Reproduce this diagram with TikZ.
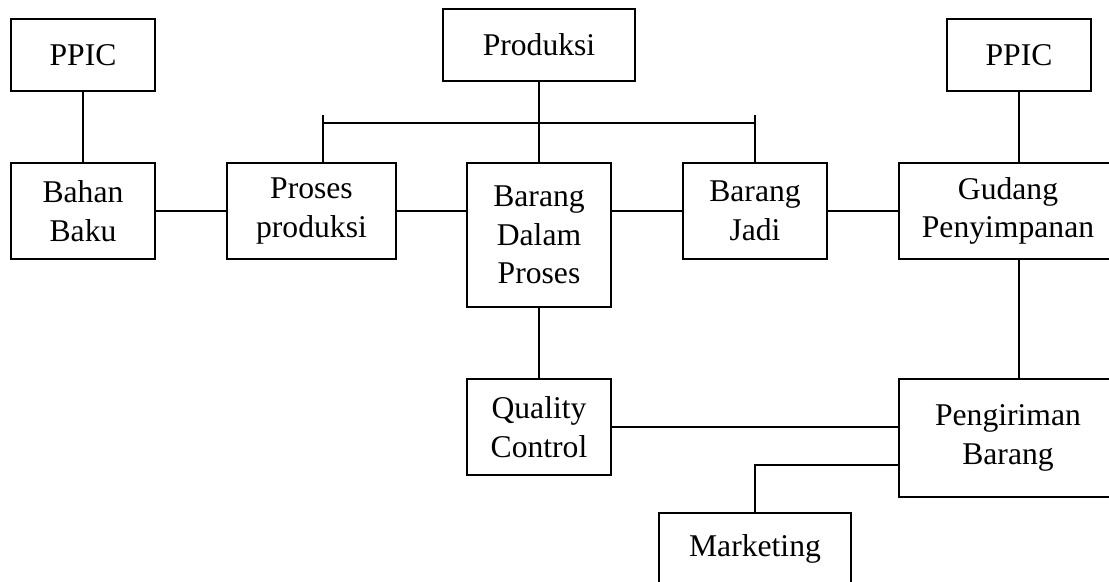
\documentclass[tikz,border=0pt]{standalone}
\usepackage{fontspec}
\setmainfont{Liberation Serif}
\begin{document}
\begin{tikzpicture}
  [x=0.025cm,y=-0.025cm,line width=1.1pt,
   box/.style={draw,rectangle,align=center,inner sep=0pt,
     font=\fontsize{22.5}{27.5}\selectfont}]
  \path[use as bounding box,clip] (0,0) rectangle (1109,581);
  \node (ppicL)[box,minimum width=3.6cm,minimum height=1.8cm] at (83,55) {PPIC};
  \node (bahan)[box,minimum width=3.6cm,minimum height=2.4cm] at (83,211) {Bahan\\Baku};
  \node (proses)[box,minimum width=4.225cm,minimum height=2.4cm] at (311.5,211) {Proses\\produksi};
  \node (produksi)[box,minimum width=4.8cm,minimum height=1.8cm] at (539,45) {Produksi};
  \node (bdp)[box,minimum width=3.6cm,minimum height=3.6cm] at (539,235) {Barang\\Dalam\\Proses};
  \node (jadi)[box,minimum width=3.6cm,minimum height=2.4cm] at (755,211) {Barang\\Jadi};
  \node (ppicR)[box,minimum width=3.6cm,minimum height=1.8cm] at (1019,55) {PPIC};
  \node (gudang)[box,minimum width=5.45cm,minimum height=2.4cm] at (1008,211) {Gudang\\Penyimpanan};
  \node (qc)[box,minimum width=3.6cm,minimum height=2.4cm] at (539,427) {Quality\\Control};
  \node (kirim)[box,minimum width=5.45cm,minimum height=2.95cm] at (1008,438) {Pengiriman\\Barang};
  \node (market)[box,minimum width=4.8cm,minimum height=1.8cm] at (755,549) {Marketing};

  \coordinate (busL) at (323,115);
  \coordinate (busR) at (755,115);
  \coordinate (hub) at (539,123);
  \coordinate (mk) at (755,465);

  \foreach \from/\to in {ppicL/bahan,bahan/proses,jadi/gudang,produksi/bdp,bdp/qc}
    \draw (\from) -- (\to);
  \draw (proses.east) -- (proses.east -| bdp.west);
  \draw (jadi.west -| bdp.east) -- (jadi.west);
  \draw (qc.east) -- (qc.east -| kirim.west);
  \draw (ppicR.south) -- (ppicR |- gudang.north);
  \draw (gudang.south -| ppicR) -- (kirim.north -| ppicR);
  \draw (hub -| busL) -- (hub -| busR);
  \draw (busL) -- (proses.north -| busL);
  \draw (busR) -- (jadi.north);
  \draw (mk -| kirim.west) -- (mk) -- (market.north);
\end{tikzpicture}
\end{document}
